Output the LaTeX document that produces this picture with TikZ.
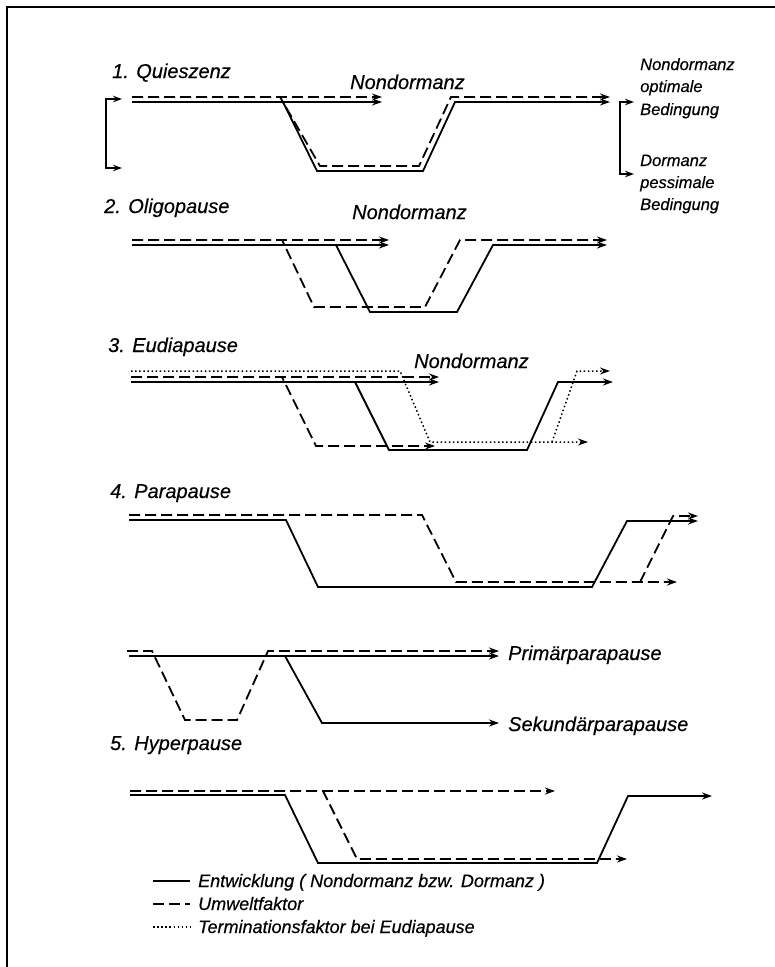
\documentclass[tikz,border=0pt]{standalone}
\usepackage{fontspec}
\setmainfont{Liberation Sans}[ItalicFeatures={FakeBold=0.4}]
\usetikzlibrary{arrows.meta}
\begin{document}
\begin{tikzpicture}[x=1pt,y=-1pt,
  sol/.style={line width=1.8pt},
  dsh/.style={line width=1.8pt, dash pattern=on 11pt off 5pt},
  dts/.style={line width=1.5pt, dash pattern=on 1.5pt off 2.6pt},
  tip/.style={-{Stealth[length=10pt,width=7pt]}},
  btip/.style={{Stealth[length=9pt,width=6.5pt]}-{Stealth[length=9pt,width=6.5pt]}},
  lbl/.style={font=\fontsize{20}{24}\selectfont\itshape, inner sep=0pt, anchor=base west},
  slbl/.style={font=\fontsize{16.5}{20}\selectfont\itshape, inner sep=0pt, anchor=base west},
  leg/.style={font=\fontsize{18}{22}\selectfont\itshape, inner sep=0pt, anchor=base west},
]
\fill[white] (0,0) rectangle (775,967);
\useasboundingbox (0,0) rectangle (775,967);
% frame
\draw[line width=1.3pt] (7,967) -- (7,7) -- (775,7);

% ---------- 1. Quieszenz
\node[lbl] (t1) at (112,78) {1. Quieszenz};
\node[lbl] (n1) at (350,89) {Nondormanz};
\draw[sol,btip] (122,99) -- (106,99) -- (106,168) -- (122,168);
\draw[dsh,tip] (132,97) -- (382,97);
\draw[sol,tip] (132,102) -- (382,102);
\draw[dsh,tip] (132,97) -- (280,97) -- (320,166) -- (419,166) -- (451,97) -- (610,97);
\draw[sol,tip] (132,102) -- (283,102) -- (317,171) -- (423,171) -- (455,102) -- (610,102);
\draw[sol,btip] (634,102) -- (620,102) -- (620,174) -- (634,174);
\node[slbl] (r1) at (640,70) {Nondormanz};
\node[slbl] (r2) at (640,92) {optimale};
\node[slbl] (r3) at (640,115) {Bedingung};
\node[slbl] (r4) at (640,166) {Dormanz};
\node[slbl] (r5) at (640,188) {pessimale};
\node[slbl] (r6) at (640,210) {Bedingung};

% ---------- 2. Oligopause
\node[lbl] (t2) at (104,213) {2. Oligopause};
\node[lbl] (n2) at (352,219) {Nondormanz};
\draw[dsh,tip] (132,240) -- (389,240);
\draw[sol,tip] (132,245) -- (389,245);
\draw[dsh,tip] (132,240) -- (282,240) -- (314,307) -- (425,307) -- (460,240) -- (607,240);
\draw[sol,tip] (132,245) -- (336,245) -- (370,312) -- (457,312) -- (493,245) -- (607,245);

% ---------- 3. Eudiapause
\node[lbl] (t3) at (108,352) {3. Eudiapause};
\node[lbl] (n3) at (414,368) {Nondormanz};
\draw[dts,tip] (131,371) -- (400,371) -- (430,442) -- (588,442);
\draw[dts,tip] (552,442) -- (577,371) -- (610,371);
\draw[dsh,tip] (131,377) -- (439,377);
\draw[dsh,tip] (131,377) -- (282,377) -- (316,446) -- (435,446);
\draw[sol,tip] (131,382) -- (439,382);
\draw[sol,tip] (131,382) -- (355,382) -- (389,450) -- (527,450) -- (558,382) -- (613,382);

% ---------- 4. Parapause
\node[lbl] (t4) at (110,498) {4. Parapause};
\draw[dsh,tip] (129,515) -- (422,515) -- (456,582) -- (677,582);
\draw[dsh,tip] (640,582) -- (673,516) -- (698,516);
\draw[sol,tip] (129,520) -- (286,520) -- (318,587) -- (592,587) -- (627,521) -- (698,521);

% ---------- Primaer / Sekundaer
\draw[dsh,tip] (127,651) -- (152,651) -- (185,720) -- (237,720) -- (268,651) -- (499,651);
\draw[sol,tip] (129,656) -- (499,656);
\draw[sol,tip] (129,656) -- (285,656) -- (322,723) -- (499,723);
\node[lbl] (p1) at (508,660) {Primärparapause};
\node[lbl] (p2) at (508,731) {Sekundärparapause};

% ---------- 5. Hyperpause
\node[lbl] (t5) at (110,750) {5. Hyperpause};
\draw[dsh,tip] (130,791) -- (555,791);
\draw[dsh,tip] (130,791) -- (323,791) -- (357,859) -- (627,859);
\draw[sol,tip] (130,795) -- (285,795) -- (318,863) -- (597,863) -- (628,796) -- (712,796);

% ---------- legend
\draw[sol] (153,881) -- (190,881);
\node[leg] (l1) at (198,887) {Entwicklung ( Nondormanz bzw. Dormanz )};
\draw[sol,dash pattern=on 11pt off 5pt] (153,904) -- (190,904);
\node[leg] (l2) at (198,910) {Umweltfaktor};
\draw[dts] (153,927) -- (190,927);
\node[leg] (l3) at (198,933) {Terminationsfaktor bei Eudiapause};
\end{tikzpicture}
\end{document}
